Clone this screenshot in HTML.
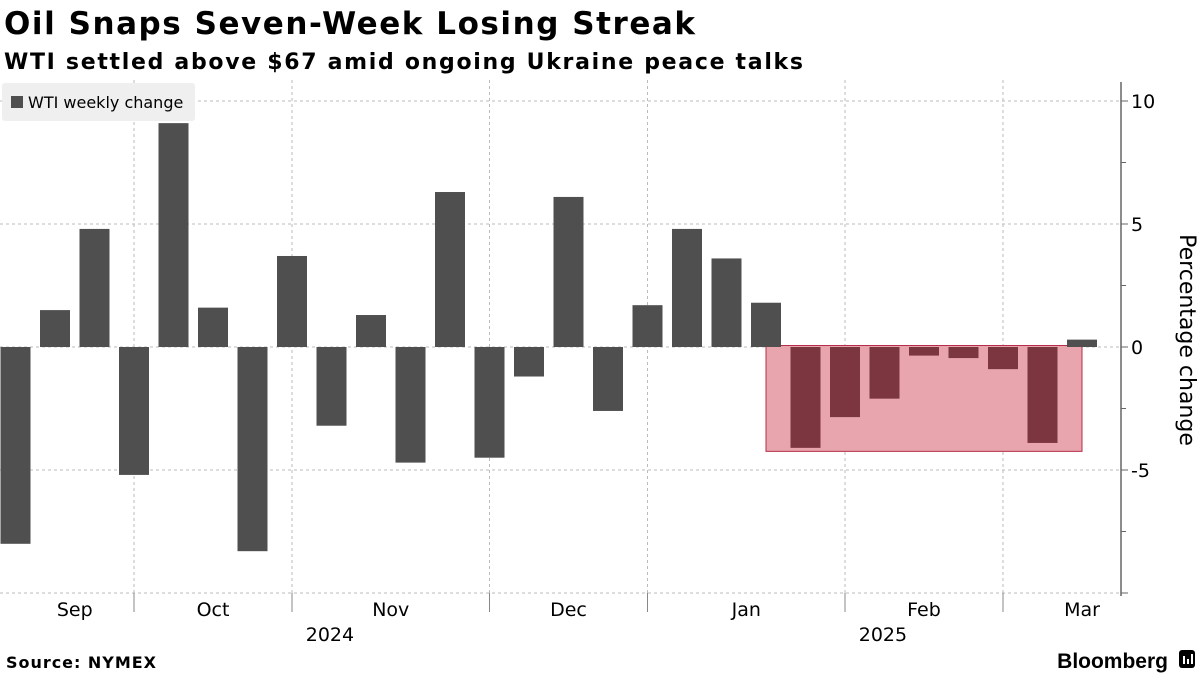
<!DOCTYPE html>
<html><head><meta charset="utf-8"><style>
body{margin:0;background:#fff;font-family:"DejaVu Sans","Liberation Sans",sans-serif;}
</style></head><body>
<svg width="1200" height="675" xmlns="http://www.w3.org/2000/svg" id="chart">
<rect width="1200" height="675" fill="#fff"/>
<text x="4" y="34" font-size="31" font-weight="bold" fill="#000" textLength="691" lengthAdjust="spacing">Oil Snaps Seven-Week Losing Streak</text>
<text x="4" y="69" font-size="22" font-weight="bold" fill="#000" textLength="799" lengthAdjust="spacing">WTI settled above $67 amid ongoing Ukraine peace talks</text>
<g id="grid"></g>
<g id="bars"></g>
<g id="axis"></g>
<g>
<rect x="2" y="83" width="193" height="38" rx="3" fill="#efefef"/>
<rect x="11" y="96" width="12" height="12" fill="#4f4f4f"/>
<text x="28" y="108" font-size="16" fill="#000">WTI weekly change</text>
</g>
<text transform="translate(1180,340) rotate(90)" text-anchor="middle" font-size="22" fill="#000">Percentage change</text>
<text x="6" y="668" font-size="16" font-weight="bold" fill="#000" textLength="150" lengthAdjust="spacing">Source: NYMEX</text>
<text x="1168" y="668" text-anchor="end" font-size="21" font-weight="bold" fill="#000" font-family="Liberation Sans,sans-serif">Bloomberg</text>
<g><rect x="1179" y="650" width="16" height="18" rx="3" fill="#000"/><rect x="1183" y="656" width="2" height="8" fill="#fff"/><rect x="1187" y="659" width="2" height="5" fill="#fff"/><rect x="1191" y="654" width="2" height="10" fill="#fff"/></g>
</svg>
<script>
const values=[-8.0,1.5,4.8,-5.2,9.1,1.6,-8.3,3.7,-3.2,1.3,-4.7,6.3,-4.5,-1.2,6.1,-2.6,1.7,4.8,3.6,1.8,-4.1,-2.85,-2.1,-0.35,-0.45,-0.9,-3.9,0.3];
const yTicks=[10,5,0,-5];
const monthLabels=["Sep","Oct","Nov","Dec","Jan","Feb","Mar"];
const monthIdx=[1.5,5,9.5,14,18.5,23,27];
const monthBounds=[3,7,12,16,21,25];
const yearLabels=["2024","2025"];
const yearIdx=[7.96,21.96];
const streakStart=20, streakEnd=26;
const NS="http://www.w3.org/2000/svg";
const X=i=>15.5+39.5*i;
const Y=v=>347-24.6*v;
const g=document.getElementById('grid'),b=document.getElementById('bars'),a=document.getElementById('axis');
function mk(p,t,at){const e=document.createElementNS(NS,t);for(const k in at)e.setAttribute(k,at[k]);p.appendChild(e);return e;}
[10,5,0,-5,-10].forEach(v=>{const l=mk(g,'line',{x1:0,x2:1121,y1:Y(v),y2:Y(v),stroke:'#bbb','stroke-dasharray':'3,3'});

});
monthBounds.forEach(m=>{const x=X(m);const l=mk(g,'line',{x1:x,x2:x,y1:80,y2:593,stroke:'#bbb','stroke-dasharray':'3,3'});


const t=mk(a,'line',{x1:x,x2:x,y1:593,y2:612,stroke:'#888'});

});
const hl=mk(b,'rect',{x:X(streakStart)-39.5,y:Y(0)-1.5,width:X(streakEnd)-X(streakStart)+79,height:Y(Math.min(...values.slice(streakStart,streakEnd+1)))-Y(0)+5,fill:'#e8a5ae',stroke:'#b52d47','stroke-width':1});


values.forEach((v,i)=>{const inS=i>=streakStart&&i<=streakEnd;const r=mk(b,'rect',{x:X(i)-15,y:Math.min(Y(v),Y(0)),width:30,height:Math.abs(Y(v)-Y(0)),fill:inS?'#7b3640':'#4f4f4f'});

});
mk(a,'line',{x1:1121,x2:1121,y1:82,y2:596,stroke:'#666','stroke-width':1.5});
[10,7.5,5,2.5,0,-2.5,-5,-7.5,-10].forEach(v=>{mk(a,'line',{x1:1121,x2:v%5==0?1128:1126,y1:Y(v),y2:Y(v),stroke:'#666'});});
yTicks.forEach(v=>{const t=mk(a,'text',{x:1131,y:Y(v)+7,'font-size':19,fill:'#000'});t.textContent=v<0?'-'+Math.abs(v):String(v);

});
monthLabels.forEach((m,k)=>{const t=mk(a,'text',{x:X(monthIdx[k]),y:616,'text-anchor':'middle','font-size':19,fill:'#000'});t.textContent=m;

});
yearLabels.forEach((y,k)=>{const t=mk(a,'text',{x:X(yearIdx[k]),y:641,'text-anchor':'middle','font-size':19,fill:'#000'});t.textContent=y;

});
</script>
</body></html>
